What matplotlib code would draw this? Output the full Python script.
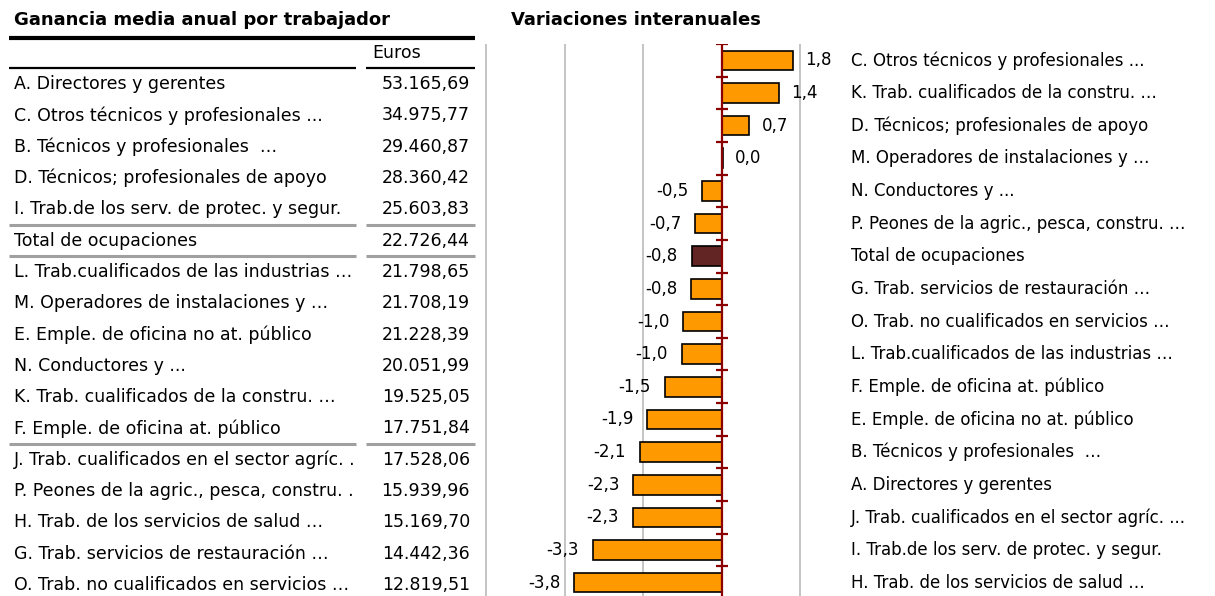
import matplotlib
matplotlib.use("Agg")
import matplotlib.pyplot as plt

plt.rcParams['font.family'] = ['DejaVu Sans']

# tabla: ganancia media anual por trabajador (euros)
tabla_ocup = ["A. Directores y gerentes",
              "C. Otros técnicos y profesionales ...",
              "B. Técnicos y profesionales  …",
              "D. Técnicos; profesionales de apoyo",
              "I. Trab.de los serv. de protec. y segur.",
              "Total de ocupaciones",
              "L. Trab.cualificados de las industrias …",
              "M. Operadores de instalaciones y …",
              "E. Emple. de oficina no at. público",
              "N. Conductores y ...",
              "K. Trab. cualificados de la constru. …",
              "F. Emple. de oficina at. público",
              "J. Trab. cualificados en el sector agríc. .",
              "P. Peones de la agric., pesca, constru. .",
              "H. Trab. de los servicios de salud …",
              "G. Trab. servicios de restauración …",
              "O. Trab. no cualificados en servicios …"]
tabla_euros = ["53.165,69", "34.975,77", "29.460,87", "28.360,42", "25.603,83",
               "22.726,44", "21.798,65", "21.708,19", "21.228,39", "20.051,99",
               "19.525,05", "17.751,84", "17.528,06", "15.939,96", "15.169,70",
               "14.442,36", "12.819,51"]
tabla_separadores = [4.5, 5.5, 11.5]

# variaciones interanuales (%)
var_ocup = ["C. Otros técnicos y profesionales ...",
            "K. Trab. cualificados de la constru. …",
            "D. Técnicos; profesionales de apoyo",
            "M. Operadores de instalaciones y …",
            "N. Conductores y ...",
            "P. Peones de la agric., pesca, constru. …",
            "Total de ocupaciones",
            "G. Trab. servicios de restauración …",
            "O. Trab. no cualificados en servicios …",
            "L. Trab.cualificados de las industrias …",
            "F. Emple. de oficina at. público",
            "E. Emple. de oficina no at. público",
            "B. Técnicos y profesionales  …",
            "A. Directores y gerentes",
            "J. Trab. cualificados en el sector agríc. ...",
            "I. Trab.de los serv. de protec. y segur.",
            "H. Trab. de los servicios de salud …"]
var_valores = [1.81, 1.45, 0.69, 0.02, -0.51, -0.69, -0.77, -0.79, -0.99, -1.02,
               -1.46, -1.91, -2.09, -2.26, -2.28, -3.29, -3.76]

W, H = 1215, 596
fig = plt.figure(figsize=(W / 100, H / 100), dpi=100)
FS_TAB = 12.5
FS_BAR = 12
FS_TIT = 13

# ---------- tabla ----------
tax = fig.add_axes([0, 0, 480 / W, 1])
tax.set_xlim(0, 480)
tax.set_ylim(16.35, -2.683)
tax.axis('off')

fig.text(14 / W, 1 - 20 / H, "Ganancia media anual por trabajador",
         fontsize=FS_TIT, fontweight='bold', ha='left', va='center')
fig.text(511 / W, 1 - 20 / H, "Variaciones interanuales",
         fontsize=FS_TIT, fontweight='bold', ha='left', va='center')

tax.plot([9, 475], [-1.47, -1.47], color='black', lw=3.0, solid_capstyle='butt')
tax.text(372, -1, "Euros", fontsize=FS_TAB, ha='left', va='center')
for seg in [(9, 356), (366, 475)]:
    tax.plot(seg, [-0.5, -0.5], color='black', lw=1.6, solid_capstyle='butt')
    for s in tabla_separadores:
        tax.plot(seg, [s, s], color='#a0a0a0', lw=2.2, solid_capstyle='butt')

for i, (lab, val) in enumerate(zip(tabla_ocup, tabla_euros)):
    tax.text(14, i, lab, fontsize=FS_TAB, ha='left', va='center')
    tax.text(470, i, val, fontsize=FS_TAB, ha='right', va='center')

# ---------- barras ----------
x0 = 722
scale = 39.25
xmin, xmax = -6.2, 2.2
left = (x0 + xmin * scale) / W
width = (xmax - xmin) * scale / W
top = 44
bottom = 599
ax = fig.add_axes([left, 1 - bottom / H, width, (bottom - top) / H])
n = len(var_valores)
ax.set_xlim(xmin, xmax)
ax.set_ylim(n - 0.5, -0.5)
ax.axis('off')

for g in [-6, -4, -2, 2]:
    ax.axvline(g, color='#c4c4c4', lw=1.4, zorder=0)

colores = ['#632523' if o == "Total de ocupaciones" else '#FF9900' for o in var_ocup]
ax.barh(range(n), var_valores, height=0.6, color=colores, edgecolor='black',
        linewidth=1.2, zorder=2)

ax.axvline(0, color='#8B0000', lw=1.6, zorder=3)
ax.hlines([i - 0.5 for i in range(n)], -0.15, 0.15, color='#8B0000', lw=1.6, zorder=3)

for i, (lab, v) in enumerate(zip(var_ocup, var_valores)):
    txt = f"{v:.1f}".replace('.', ',')
    if v >= 0:
        ax.annotate(txt, (v, i), xytext=(9, 0), textcoords='offset points',
                    ha='left', va='center', fontsize=FS_BAR, annotation_clip=False)
    else:
        ax.annotate(txt, (v, i), xytext=(-10, 0), textcoords='offset points',
                    ha='right', va='center', fontsize=FS_BAR, annotation_clip=False)
    ax.text((851 - x0) / scale, i, lab, fontsize=FS_BAR, ha='left', va='center',
            clip_on=False)

fig.savefig("out.png", dpi=100)
